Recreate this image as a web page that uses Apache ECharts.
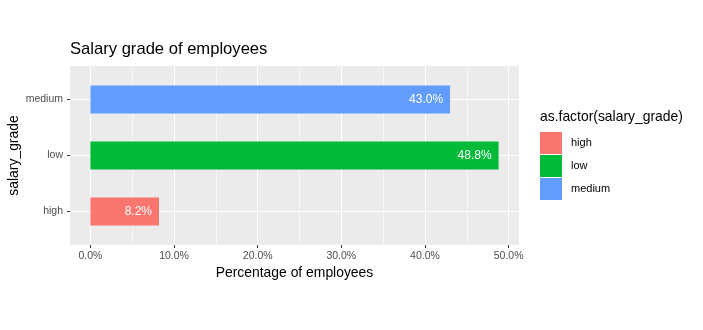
<!DOCTYPE html>
<html><head><meta charset="utf-8">
<script src="https://cdn.jsdelivr.net/npm/echarts@6/dist/echarts.min.js"></script>
<style>html,body{margin:0;padding:0;background:#fff}#c{width:703px;height:330px}</style>
</head><body><div id="c"></div>
<script>
var categories = ['high', 'low', 'medium'];
var values = [8.2, 48.8, 43.0];
var colors = ['#F8766D', '#00BA38', '#619CFF'];
var xBreaks = [0, 10, 20, 30, 40, 50];
var titleText = 'Salary grade of employees';
var xTitle = 'Percentage of employees';
var yTitle = 'salary_grade';
var legendTitle = 'as.factor(salary_grade)';

var dataMax = Math.max.apply(null, values);
var pad = 0.05 * (dataMax - 0);
var xMin = 0 - pad, xMax = dataMax + pad;
var FONT = 'Liberation Sans, Arial, sans-serif';

var series = categories.map(function (c, i) {
  return {
    name: c, type: 'bar', xAxisIndex: 2, yAxisIndex: 2, stack: 'all',
    barWidth: 28, clip: false,
    itemStyle: { color: colors[i] },
    label: {
      show: true, position: 'insideRight', distance: 7, color: '#ffffff',
      fontSize: 12, fontFamily: FONT,
      formatter: function (p) { return p.value.toFixed(1) + '%'; }
    },
    data: categories.map(function (cc, j) { return j === i ? values[i] : '-'; })
  };
});

var chart = echarts.init(document.getElementById('c'), null, { renderer: 'canvas' });
chart.setOption({
  animation: false,
  textStyle: { fontFamily: FONT },
  title: [
    { text: titleText, left: 70, top: 41, padding: 0, textStyle: { fontSize: 16.6, fontWeight: 'normal', color: '#000', fontFamily: FONT } },
    { text: legendTitle, left: 540, top: 110, padding: 0, textStyle: { fontSize: 13.9, fontWeight: 'normal', color: '#000', fontFamily: FONT } }
  ],
  legend: {
    orient: 'vertical', left: 540, top: 132, padding: 0, itemWidth: 22, itemHeight: 22, itemGap: 1,
    icon: 'rect', data: categories,
    textStyle: { fontSize: 11, color: '#000', fontFamily: FONT, padding: [0, 0, 0, 4] }
  },
  grid: [
    { left: 70, top: 66, width: 449, height: 179, show: true, backgroundColor: '#EBEBEB', borderWidth: 0, containLabel: false, outerBoundsMode: 'none' },
    { left: 90.4, top: 66, width: 418.2, height: 179, containLabel: false, outerBoundsMode: 'none' },
    { left: 70, top: 99.4, width: 449, height: 112, containLabel: false, outerBoundsMode: 'none' }
  ],
  xAxis: [
    { gridIndex: 0, type: 'value', min: 0, max: 1, name: xTitle, nameLocation: 'middle', nameGap: 21,
      nameTextStyle: { fontSize: 13.9, color: '#000', fontFamily: FONT },
      axisLine: { show: false }, axisTick: { show: false }, axisLabel: { show: false }, splitLine: { show: false } },
    { gridIndex: 1, type: 'value', min: xBreaks[0], max: xBreaks[xBreaks.length - 1], interval: 10,
      axisLine: { show: false, onZero: false },
      axisTick: { show: true, length: 3, lineStyle: { color: '#333333', width: 1 } },
      axisLabel: { margin: 6, fontSize: 10.5, color: '#4D4D4D', fontFamily: FONT,
        formatter: function (v) { return v.toFixed(1) + '%'; } },
      splitLine: { show: true, lineStyle: { color: '#ffffff', width: 1.1 } },
      minorTick: { show: false, splitNumber: 2 },
      minorSplitLine: { show: true, lineStyle: { color: '#ffffff', width: 0.55 } } },
    { gridIndex: 2, type: 'value', min: xMin, max: xMax, show: false, splitLine: { show: false } }
  ],
  yAxis: [
    { gridIndex: 0, type: 'value', min: 0, max: 1, name: yTitle, nameLocation: 'middle', nameGap: 49,
      nameTextStyle: { fontSize: 13.9, color: '#000', fontFamily: FONT },
      axisLine: { show: false }, axisTick: { show: false }, axisLabel: { show: false }, splitLine: { show: false } },
    { gridIndex: 1, type: 'value', show: false, splitLine: { show: false } },
    { gridIndex: 2, type: 'category', data: categories, boundaryGap: false,
      axisLine: { show: false, onZero: false },
      axisTick: { show: true, length: 3, lineStyle: { color: '#333333', width: 1 } },
      axisLabel: { margin: 7, fontSize: 10.5, color: '#4D4D4D', fontFamily: FONT },
      splitLine: { show: true, lineStyle: { color: '#ffffff', width: 1.1 } } }
  ],
  series: series
});
</script></body></html>
